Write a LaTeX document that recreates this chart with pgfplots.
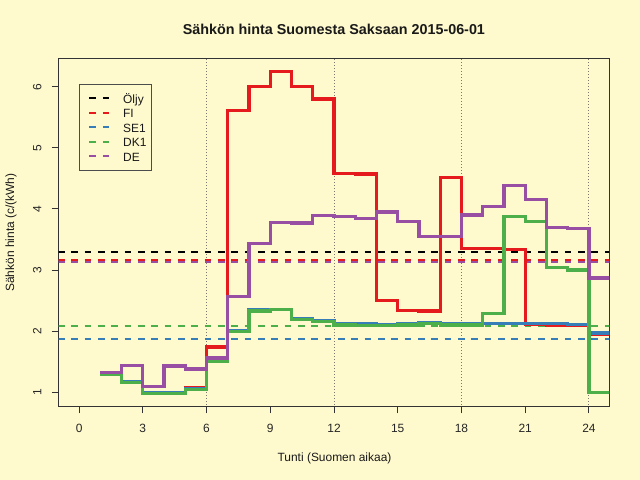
\documentclass[border=0pt]{standalone}
\usepackage{fontspec}
\setmainfont{Liberation Sans}
\usepackage{pgfplots}
\pgfplotsset{compat=1.18}
\definecolor{bg}{HTML}{FFFACD}
\definecolor{cfi}{HTML}{E41A1C}
\definecolor{cse}{HTML}{377EB8}
\definecolor{cdk}{HTML}{4DAF4A}
\definecolor{cde}{HTML}{984EA3}
\definecolor{dotc}{RGB}{125,120,110}
\begin{document}
\begin{tikzpicture}
\fill[bg] (0bp,0bp) rectangle (640bp,480bp);
\useasboundingbox (0bp,0bp) rectangle (640bp,480bp);
\begin{axis}[
  at={(58.7bp,74bp)}, anchor=south west, scale only axis,
  width=550.6bp, height=347bp,
  xmin=-0.96, xmax=24.96, ymin=0.776, ymax=6.453,
  axis background/.style={fill=bg},
  axis line style={black!80, line width=1bp},
  xtick={0,3,...,24}, ytick={1,2,3,4,5,6},
  xtick pos=bottom, ytick pos=left, tick align=outside,
  major tick length=7bp,
  every tick/.style={black!80, line width=1bp},
  tick label style={font=\fontsize{12}{14}\selectfont, text=black!85},
  /pgf/number format/assume math mode=true,
  xticklabel style={anchor=base, inner sep=0pt, yshift=-19bp},
  yticklabel style={anchor=base, inner sep=0pt, xshift=-10.3bp, rotate=90},
  legend cell align=left,
  legend style={at={(axis description cs:0.0374,0.928)}, anchor=north west,
    draw=black!70, line width=1bp, fill=bg, inner xsep=5bp, inner ysep=9bp,
    row sep=4.4bp,
    nodes={inner sep=0pt, text height=10bp, text depth=0bp,
      font=\fontsize{12}{14}\selectfont, text=black!90}},
  legend image code/.code={%
    \path[draw=none, fill=none] (0bp,-2bp) rectangle (38.4bp,2bp);
    \draw[line width=2bp, dash pattern=on 6.67bp off 6.67bp] (4.7bp,0bp) -- (24.7bp,0bp);},
]
\addlegendimage{black}
\addlegendentry{Öljy}
\addlegendimage{cfi}
\addlegendentry{FI}
\addlegendimage{cse}
\addlegendentry{SE1}
\addlegendimage{cdk}
\addlegendentry{DK1}
\addlegendimage{cde}
\addlegendentry{DE}

% vertical dotted reference lines
\draw[dotc, line width=1bp, dash pattern=on 1bp off 2bp] (axis cs:6,0.7) -- (axis cs:6,6.6);
\draw[dotc, line width=1bp, dash pattern=on 1bp off 2bp] (axis cs:12,0.7) -- (axis cs:12,6.6);
\draw[dotc, line width=1bp, dash pattern=on 1bp off 2bp] (axis cs:18,0.7) -- (axis cs:18,6.6);
\draw[dotc, line width=1bp, dash pattern=on 1bp off 2bp] (axis cs:24,0.7) -- (axis cs:24,6.6);

% daily means
\addplot[forget plot, black, line width=1.7bp, dash pattern=on 6.67bp off 6.67bp] coordinates {(-1,3.30) (26,3.30)};
\addplot[forget plot, cse, line width=1.7bp, dash pattern=on 6.67bp off 6.67bp] coordinates {(-1,1.87) (26,1.87)};
\addplot[forget plot, cdk, line width=1.7bp, dash pattern=on 6.67bp off 6.67bp] coordinates {(-1,2.08) (26,2.08)};
\addplot[forget plot, cde, line width=2.6bp, dash pattern=on 6.67bp off 6.67bp] coordinates {(-1,3.14) (26,3.14)};
\addplot[forget plot, cfi, line width=2.6bp, dash pattern=on 6.67bp off 6.67bp] coordinates {(-1,3.165) (26,3.165)};

% hourly prices (step)
\addplot[forget plot, const plot, cfi, line width=3.2bp] coordinates {
(1,1.30) (2,1.17) (3,1.00) (4,1.00) (5,1.07) (6,1.74) (7,5.61) (8,6.00)
(9,6.25) (10,6.00) (11,5.80) (12,4.58) (13,4.57) (14,2.50) (15,2.34) (16,2.33)
(17,4.52) (18,3.35) (19,3.35) (20,3.34) (21,2.11) (22,2.10) (23,2.09) (24,1.94) (25,1.94)};
\addplot[forget plot, const plot, cse, line width=3.2bp] coordinates {
(1,1.30) (2,1.18) (3,0.99) (4,0.99) (5,1.06) (6,1.52) (7,2.01) (8,2.35)
(9,2.36) (10,2.21) (11,2.18) (12,2.13) (13,2.12) (14,2.11) (15,2.12) (16,2.14)
(17,2.12) (18,2.12) (19,2.12) (20,2.12) (21,2.12) (22,2.12) (23,2.11) (24,1.97) (25,1.97)};
\addplot[forget plot, const plot, cdk, line width=3.2bp] coordinates {
(1,1.29) (2,1.16) (3,0.98) (4,0.98) (5,1.05) (6,1.50) (7,1.99) (8,2.33)
(9,2.35) (10,2.19) (11,2.16) (12,2.10) (13,2.09) (14,2.09) (15,2.10) (16,2.12)
(17,2.10) (18,2.10) (19,2.29) (20,3.87) (21,3.79) (22,3.04) (23,3.00) (24,1.00) (25,1.00)};
\addplot[forget plot, const plot, cde, line width=3.2bp] coordinates {
(1,1.32) (2,1.44) (3,1.10) (4,1.43) (5,1.38) (6,1.56) (7,2.57) (8,3.44)
(9,3.78) (10,3.77) (11,3.89) (12,3.87) (13,3.85) (14,3.95) (15,3.80) (16,3.55)
(17,3.55) (18,3.90) (19,4.04) (20,4.38) (21,4.15) (22,3.70) (23,3.68) (24,2.87) (25,2.87)};
\end{axis}
\node[anchor=base, font=\bfseries\fontsize{14.4}{17}\selectfont, text=black!90] at (333.9bp,445.7bp) {Sähkön hinta Suomesta Saksaan 2015-06-01};
\node[anchor=base, font=\fontsize{12}{14}\selectfont, text=black!90] at (334.5bp,19bp) {Tunti (Suomen aikaa)};
\node[anchor=base, rotate=90, font=\fontsize{12}{14}\selectfont, text=black!90] at (14bp,247.5bp) {Sähkön hinta (c/(kWh)};
\end{tikzpicture}
\end{document}
